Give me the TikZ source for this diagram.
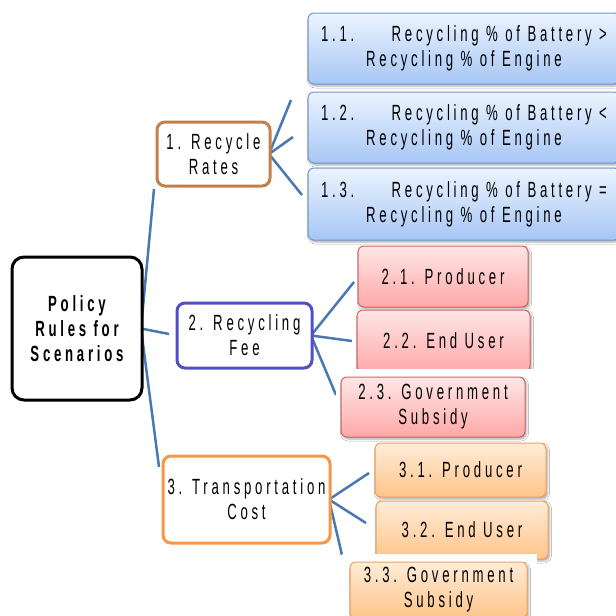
\documentclass[tikz,border=0pt]{standalone}
\usepackage{fontspec}
\setmainfont{Liberation Sans}[FakeStretch=0.6, LetterSpace=17]
\usetikzlibrary{shadows.blur}

\definecolor{linkblue}{RGB}{74,120,176}
\definecolor{bluetop}{RGB}{236,244,255}
\definecolor{bluebot}{RGB}{166,198,245}
\definecolor{blueline}{RGB}{112,152,212}
\definecolor{redtop}{RGB}{255,230,230}
\definecolor{redbot}{RGB}{255,168,168}
\definecolor{redline}{RGB}{210,100,100}
\definecolor{orgtop}{RGB}{255,236,216}
\definecolor{orgbot}{RGB}{255,196,138}
\definecolor{orgline}{RGB}{245,160,85}
\definecolor{brownline}{RGB}{192,130,74}
\definecolor{violetline}{RGB}{80,80,196}
\definecolor{orangeline}{RGB}{247,150,70}

\tikzset{
  txt/.style={font=\fontsize{22}{25}\selectfont, align=center, inner sep=0pt, text=black},
  link/.style={draw=linkblue, line width=2.5pt},
  rootbox/.style={txt, draw=black, line width=3pt, rounded corners=12pt, fill=white,
    font=\fontsize{22}{25}\selectfont\bfseries},
  levelbox/.style={txt, line width=3pt, rounded corners=8pt, fill=white},
  leaf/.style={txt, line width=1pt, rounded corners=6pt,
    blur shadow={shadow xshift=1.5pt, shadow yshift=-2pt, shadow blur radius=2pt, shadow opacity=35}},
  blueleaf/.style={leaf, draw=blueline, top color=bluetop, bottom color=bluebot},
  redleaf/.style={leaf, draw=redline, top color=redtop, bottom color=redbot},
  orgleaf/.style={leaf, draw=orgline, top color=orgtop, bottom color=orgbot},
}

\begin{document}
\begin{tikzpicture}[x=1pt, y=-1pt]
\clip (0,0) rectangle (616,616);
\fill[white] (0,0) rectangle (616,616);

% free ends of the connectors
\coordinate (r1) at (154,189);
\coordinate (r2) at (169,334);
\coordinate (r3) at (159,467);
\coordinate (a1) at (291,100);
\coordinate (a2) at (293,137);
\coordinate (a3) at (302,195);
\coordinate (b1) at (354,282);
\coordinate (b2) at (352,341);
\coordinate (b3) at (336,395);
\coordinate (c1) at (369,473);
\coordinate (c2) at (366,523);
\coordinate (c3) at (342,555);

% anchor points of the main topic and the three policy groups
\coordinate (root) at (77,328.5);
\coordinate (rr) at (213.5,154);
\coordinate (rf) at (244.5,335.5);
\coordinate (tc) at (246.5,499.5);
\coordinate (rootE) at (141,328.5);
\coordinate (rrE) at (269,154);
\coordinate (rfE) at (311,335.5);
\coordinate (tcE) at (329,499.5);

% connectors, drawn first so that the boxes cover their ends
\draw[link] (rootE) -- (r1);
\draw[link] (rootE) -- (r2);
\draw[link] (rootE) -- (r3);
\draw[link] (rrE) -- (a1);
\draw[link] (rrE) -- (a2);
\draw[link] (rrE) -- (a3);
\draw[link] (rfE) -- (b1);
\draw[link] (rfE) -- (b2);
\draw[link] (rfE) -- (b3);
\draw[link] (tcE) -- (c1);
\draw[link] (tcE) -- (c2);
\draw[link] (tcE) -- (c3);

% main topic and the three policy groups
\node[rootbox, minimum width=130pt, minimum height=143pt] (rootbox) at (root)
  {Policy\\Rules for\\Scenarios};
\node[levelbox, draw=brownline, minimum width=113pt, minimum height=64pt] (rrbox) at (rr)
  {1. Recycle\\Rates};
\node[levelbox, draw=violetline, minimum width=135pt, minimum height=65pt] (rfbox) at (rf)
  {2. Recycling\\Fee};
\node[levelbox, draw=orangeline, minimum width=167pt, minimum height=87pt] (tcbox) at (tc)
  {3. Transportation\\Cost};

% recycle-rate scenarios
\node[blueleaf, minimum width=312pt, minimum height=71pt] (l11) at (464,48.5)
  {1.1.\hspace{1.7em}Recycling \% of Battery >\\Recycling \% of Engine};
\node[blueleaf, minimum width=312pt, minimum height=71pt] (l12) at (464,127.5)
  {1.2.\hspace{1.7em}Recycling \% of Battery <\\Recycling \% of Engine};
\node[blueleaf, minimum width=312pt, minimum height=72pt] (l13) at (464,204)
  {1.3.\hspace{1.7em}Recycling \% of Battery =\\Recycling \% of Engine};

% recycling-fee payers
\node[redleaf, minimum width=170pt, minimum height=61pt] (l21) at (443,276.5) {2.1. Producer};
\node[redleaf, minimum width=173pt, minimum height=62pt] (l22) at (443.5,341) {2.2. End User};
\fill[white] (336,369) rectangle (534,441);
\node[redleaf, minimum width=184pt, minimum height=60pt] (l23) at (433,407) {2.3. Government\\Subsidy};

% transportation-cost payers
\node[orgleaf, minimum width=171pt, minimum height=54pt] (l31) at (460.5,470) {3.1. Producer};
\node[orgleaf, minimum width=172pt, minimum height=58pt] (l32) at (462,530) {3.2. End User};
\fill[white] (342,554) rectangle (537,616);
\node[orgleaf, minimum width=177pt, minimum height=56pt] (l33) at (438.5,590) {3.3. Government\\Subsidy};
\end{tikzpicture}
\end{document}
